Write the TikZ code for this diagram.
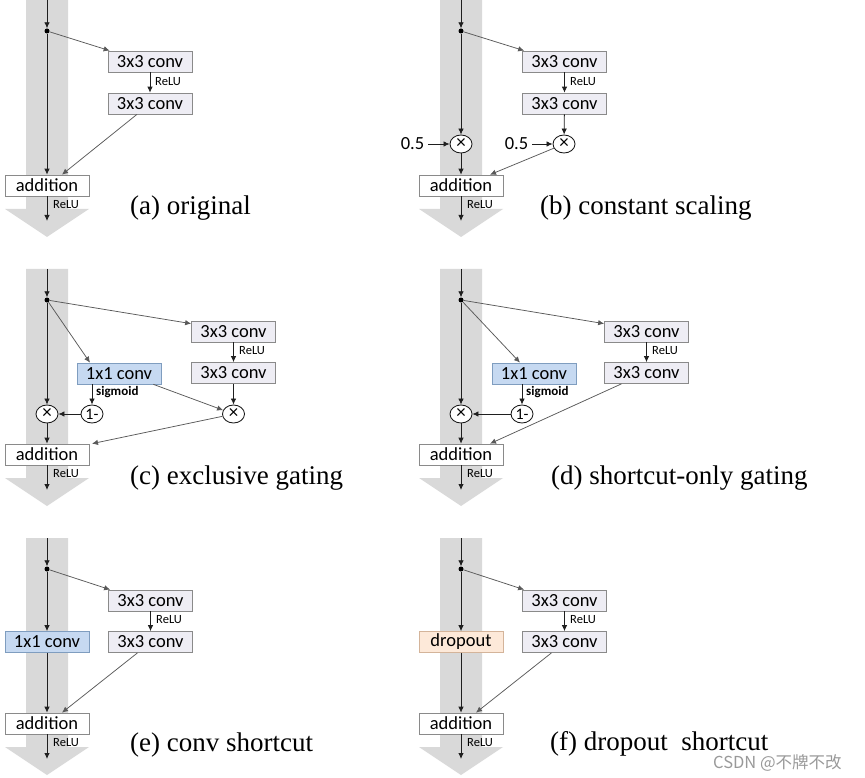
\documentclass[tikz,border=0pt]{standalone}
\usepackage{fontspec}
\setmainfont{Liberation Serif}
\newfontfamily\calib{Carlito}
\newfontfamily\cjk{Noto Sans CJK SC}
\usetikzlibrary{arrows.meta,shapes.geometric}
\definecolor{convfill}{HTML}{EEEDF4}
\definecolor{boxline}{HTML}{8A8A8A}
\definecolor{bluefill}{HTML}{C6D9F1}
\definecolor{blueline}{HTML}{7F9DBF}
\definecolor{peachfill}{HTML}{FDE9D9}
\definecolor{peachline}{HTML}{D4B49A}
\definecolor{bandgray}{HTML}{D9D9D9}
\newcommand\boxf{\calib\fontsize{18.5}{20}\selectfont}
\newcommand\smallf{\calib\fontsize{12.5}{13}\selectfont}
\newcommand\sigf{\calib\bfseries\fontsize{13}{13}\selectfont}
\newcommand\capf{\fontsize{27}{30}\selectfont}
\newcommand\timesop{{\calib\fontsize{19}{19}\selectfont ×}}
\newcommand\onef{\calib\fontsize{16}{16}\selectfont}
\tikzset{
  box/.style={draw=boxline, line width=0.7pt, minimum width=84pt, minimum height=21pt, inner sep=0pt, font=\boxf},
  convbox/.style={box, fill=convfill},
  addbox/.style={box, fill=white},
  gatebox/.style={box, fill=bluefill, draw=blueline},
  dropbox/.style={box, fill=peachfill, draw=peachline},
  op/.style={ellipse, draw=black!90, line width=0.85pt, fill=white, minimum width=22pt, minimum height=18pt, inner sep=0pt},
  junction/.style={circle, fill=black, minimum size=5pt, inner sep=0pt},
  lbl/.style={font=\smallf, inner sep=0pt},
  siglbl/.style={font=\sigf, inner sep=0pt},
  numlbl/.style={font=\boxf, inner sep=0pt},
  arr/.style={-{Latex[length=6pt,width=5.5pt]}, line width=0.8pt, draw=black!88},
  diag/.style={arr, draw=black!65, line width=0.75pt},
  captext/.style={font=\capf, anchor=base west, inner sep=0pt},
}
\newcommand\panelbase{%
  \fill[bandgray] (26,0)--(68,0)--(68,209)--(89,209)--(47,237)--(5,209)--(26,209)--cycle;
  \coordinate (top) at (47,0);
  \node[junction] (dot) at (47,31) {};
  \draw[arr] (top) -- (dot);
  \node[addbox] (add) at (47,185.5) {addition};
  \coordinate (out) at (47,221);
  \draw[arr] (add) -- (out);
  \node[lbl, anchor=west] (reluout) at (53,205) {ReLU};
}
\begin{document}
\begin{tikzpicture}[x=1pt, y=-1pt]
\useasboundingbox (0,0) rectangle (865,778);

% (a) original
\begin{scope}[name prefix=a-]
  \panelbase
  \node[convbox] (c1) at (150,61.5) {3x3 conv};
  \node[convbox] (c2) at (150,103.5) {3x3 conv};
  \draw[diag] (dot) -- ([xshift=2pt]c1.north west);
  \draw[arr] (c1) -- (c2);
  \node[lbl, anchor=west] (r1) at (155,82) {ReLU};
  \draw[diag] ([xshift=-13pt]c2.south) -- ([xshift=15pt]add.north);
  \draw[arr] (dot) -- (add);
  \node[captext] (title) at (130,215) {(a) original};
\end{scope}

% (b) constant scaling
\begin{scope}[shift={(414,0)}, name prefix=b-]
  \panelbase
  \node[convbox] (c1) at (150.5,61.5) {3x3 conv};
  \node[convbox] (c2) at (150.5,103.5) {3x3 conv};
  \draw[diag] (dot) -- ([xshift=2pt]c1.north west);
  \draw[arr] (c1) -- (c2);
  \node[lbl, anchor=west] (r1) at (156,82) {ReLU};
  \node[op] (m1) at (47,144) {\timesop};
  \node[op] (m2) at (150,144) {\timesop};
  \node[numlbl] (h1) at (-1.5,144) {0.5};
  \node[numlbl] (h2) at (102.5,144) {0.5};
  \draw[arr] ([xshift=4pt]h1.east) -- (m1);
  \draw[arr] ([xshift=4pt]h2.east) -- (m2);
  \draw[arr] (dot) -- (m1);
  \draw[arr] (m1) -- (add);
  \draw[arr] (c2) -- (m2);
  \draw[diag] (m2) -- ([xshift=29pt]add.north);
  \node[captext] (title) at (126,215) {(b) constant scaling};
\end{scope}

% (c) exclusive gating
\begin{scope}[shift={(0,269)}, name prefix=c-]
  \panelbase
  \node[convbox] (c1) at (233.5,62.5) {3x3 conv};
  \node[convbox] (c2) at (233.5,104) {3x3 conv};
  \node[gatebox] (g) at (119,104.5) {1x1 conv};
  \node[op] (m1) at (47,145) {\timesop};
  \node[op] (m2) at (233.5,145) {\timesop};
  \node[op] (om) at (92,145) {\onef 1-};
  \draw[diag] (dot) -- ([yshift=-3pt]c1.north west);
  \draw[diag] (dot) -- ([xshift=-29pt]g.north);
  \draw[arr] (c1) -- (c2);
  \node[lbl, anchor=west] (r1) at (239,82) {ReLU};
  \draw[arr] (c2) -- (m2);
  \draw[arr] (g.south -| om) -- (om);
  \node[siglbl, anchor=west] (sg) at (96,123) {sigmoid};
  \draw[diag] ([xshift=-8pt]g.south east) -- (m2);
  \draw[arr] (om) -- (m1);
  \draw[diag] (m2) -- ([xshift=45pt]add.north);
  \draw[arr] (dot) -- (m1);
  \draw[arr] (m1) -- (add);
  \node[captext] (title) at (130,215) {(c) exclusive gating};
\end{scope}

% (d) shortcut-only gating
\begin{scope}[shift={(414,269)}, name prefix=d-]
  \panelbase
  \node[convbox] (c1) at (232.5,62.5) {3x3 conv};
  \node[convbox] (c2) at (232.5,104) {3x3 conv};
  \node[gatebox] (g) at (120,104.5) {1x1 conv};
  \node[op] (m1) at (47,145) {\timesop};
  \node[op] (om) at (108,145) {\onef 1-};
  \draw[diag] (dot) -- ([yshift=-3pt]c1.north west);
  \draw[diag] (dot) -- ([xshift=-14pt]g.north);
  \draw[arr] (c1) -- (c2);
  \node[lbl, anchor=west] (r1) at (238,82) {ReLU};
  \draw[arr] (g.south -| om) -- (om);
  \node[siglbl, anchor=west] (sg) at (112,123) {sigmoid};
  \draw[arr] (om) -- (m1);
  \draw[diag] ([xshift=-25pt]c2.south) -- ([xshift=29pt]add.north);
  \draw[arr] (dot) -- (m1);
  \draw[arr] (m1) -- (add);
  \node[captext] (title) at (137,215) {(d) shortcut-only gating};
\end{scope}

% (e) conv shortcut
\begin{scope}[shift={(0,538)}, name prefix=e-]
  \panelbase
  \node[convbox] (c1) at (150.5,62.5) {3x3 conv};
  \node[convbox] (c2) at (150.5,104) {3x3 conv};
  \node[gatebox] (g) at (47,104) {1x1 conv};
  \draw[diag] (dot) -- ([xshift=2pt]c1.north west);
  \draw[arr] (c1) -- (c2);
  \node[lbl, anchor=west] (r1) at (156,82) {ReLU};
  \draw[arr] (dot) -- (g);
  \draw[arr] (g) -- (add);
  \draw[diag] ([xshift=-13pt]c2.south) -- ([xshift=15pt]add.north);
  \node[captext] (title) at (130,213) {(e) conv shortcut};
\end{scope}

% (f) dropout shortcut
\begin{scope}[shift={(414,538)}, name prefix=f-]
  \panelbase
  \node[convbox] (c1) at (150.5,62.5) {3x3 conv};
  \node[convbox] (c2) at (150.5,104) {3x3 conv};
  \node[dropbox] (g) at (47,104) {dropout};
  \draw[diag] (dot) -- ([xshift=2pt]c1.north west);
  \draw[arr] (c1) -- (c2);
  \node[lbl, anchor=west] (r1) at (156,82) {ReLU};
  \draw[arr] (dot) -- (g);
  \draw[arr] (g) -- (add);
  \draw[diag] ([xshift=-13pt]c2.south) -- ([xshift=15pt]add.north);
  \node[captext] (title) at (136,212) {(f) dropout\ \ shortcut};
\end{scope}

\node[anchor=west, inner sep=0pt, text=black!40, font=\cjk\fontsize{16.5}{17}\selectfont] (wm) at (713,763) {CSDN @不牌不改};
\end{tikzpicture}
\end{document}
